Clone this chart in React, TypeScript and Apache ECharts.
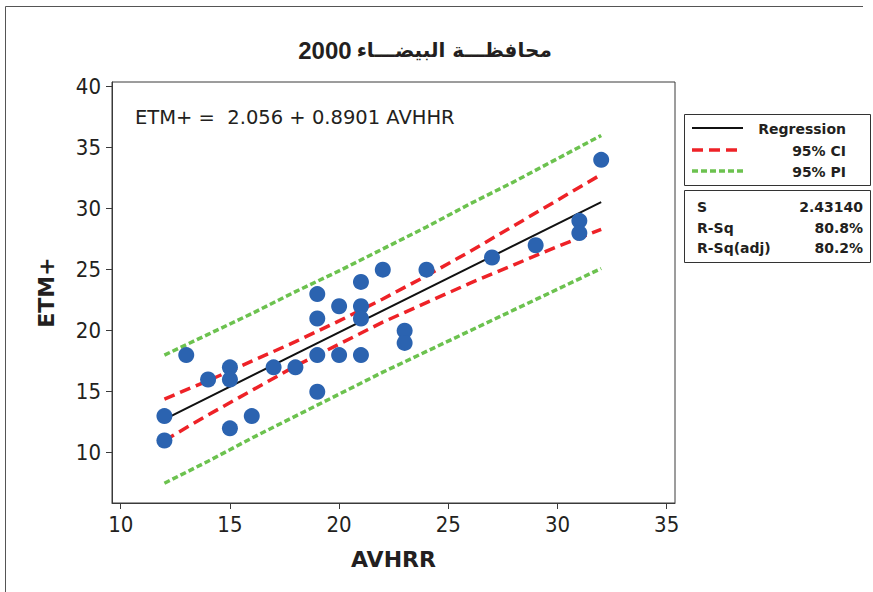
import React, { useEffect, useRef } from "react";
import * as echarts from "echarts";

// Observed data
const avhrr = [12, 12, 13, 14, 15, 15, 15, 16, 17, 18, 19, 19, 19, 19, 20, 20, 21, 21, 21, 21, 22, 23, 23, 24, 27, 29, 31, 31, 32];
const etm = [13, 11, 18, 16, 17, 16, 12, 13, 17, 17, 23, 21, 18, 15, 22, 18, 24, 22, 21, 18, 25, 20, 19, 25, 26, 27, 29, 28, 34];

// Fitted line endpoints
const fitX = [12, 32];
const fitY = [12.74, 30.54];

// Confidence / prediction bands
const bandX = [12, 14, 16, 18, 20, 22, 24, 26, 28, 30, 32];
const ciUpper = [14.4, 15.9, 17.5, 19.1, 20.8, 22.6, 24.5, 26.5, 28.6, 30.7, 32.8];
const ciLower = [11.0, 13.1, 15.1, 17.1, 18.9, 20.7, 22.3, 23.9, 25.4, 26.9, 28.3];
const piUpper = [18.0, 19.7, 21.4, 23.2, 24.9, 26.7, 28.5, 30.4, 32.2, 34.1, 36.0];
const piLower = [7.5, 9.3, 11.2, 13.0, 14.8, 16.6, 18.3, 20.0, 21.7, 23.4, 25.1];

// Ticks
const xTicks = [10, 15, 20, 25, 30, 35];
const yTicks = [10, 15, 20, 25, 30, 35, 40];

// Texts
const titleYear = "2000";
const titlePlace = "محافظـــة البيضـــاء";
const equationText = "ETM+ =  2.056 + 0.8901 AVHHR";
const legendLabels = ["Regression", "95% CI", "95% PI"];
const statLabels = ["S", "R-Sq", "R-Sq(adj)"];
const statValues = ["2.43140", "80.8%", "80.2%"];

const BLUE = "#2b63b0";
const RED = "#ee2227";
const GREEN = "#6cc24f";
const TICKFONT = "'DejaVu Sans Condensed', 'DejaVu Sans', sans-serif";
const WIDEFONT = "'DejaVu Sans', sans-serif";

export default function App() {
  const ref = useRef<HTMLDivElement>(null);

  useEffect(() => {
    if (!ref.current) return;
    const chart = echarts.init(ref.current, null, { renderer: "svg" });

    const zip = (xs: number[], ys: number[]) => xs.map((x, i) => [x, ys[i]]);
    const legendRowsY = [128, 150, 171];
    const statRowsY = [207, 228, 248];

    const graphic: any[] = [
      { type: "line", shape: { x1: 5.5, y1: 6.5, x2: 863, y2: 6.5 }, style: { stroke: "#555", lineWidth: 1 } },
      { type: "line", shape: { x1: 5.5, y1: 6.5, x2: 5.5, y2: 592 }, style: { stroke: "#555", lineWidth: 1 } },
      {
        type: "text", x: 135, y: 117,
        style: { text: equationText, fontSize: 19.5, fontFamily: WIDEFONT, fill: "#231f20", verticalAlign: "middle", align: "left" },
      },
      { type: "rect", shape: { x: 684.5, y: 114.5, width: 186, height: 71 }, style: { fill: "#fff", stroke: "#333", lineWidth: 1 } },
      { type: "rect", shape: { x: 684.5, y: 190.5, width: 186, height: 72 }, style: { fill: "#fff", stroke: "#333", lineWidth: 1 } },
      { type: "line", shape: { x1: 692, y1: legendRowsY[0], x2: 743, y2: legendRowsY[0] }, style: { stroke: "#111", lineWidth: 2 } },
      { type: "line", shape: { x1: 692, y1: legendRowsY[1], x2: 743, y2: legendRowsY[1] }, style: { stroke: RED, lineWidth: 3.5, lineDash: [11, 6] } },
      { type: "line", shape: { x1: 692, y1: legendRowsY[2], x2: 743, y2: legendRowsY[2] }, style: { stroke: GREEN, lineWidth: 3.5, lineDash: [6, 3] } },
    ];
    legendLabels.forEach((t, i) => {
      graphic.push({
        type: "text", x: 846, y: legendRowsY[i] + 1,
        style: { text: t, fontSize: 14, fontWeight: "bold", fontFamily: WIDEFONT, fill: "#231f20", align: "right", verticalAlign: "middle" },
      });
    });
    statLabels.forEach((t, i) => {
      graphic.push({
        type: "text", x: 697, y: statRowsY[i],
        style: { text: t, fontSize: 14, fontWeight: "bold", fontFamily: WIDEFONT, fill: "#231f20", align: "left", verticalAlign: "middle" },
      });
      graphic.push({
        type: "text", x: 863, y: statRowsY[i],
        style: { text: statValues[i], fontSize: 14, fontWeight: "bold", fontFamily: WIDEFONT, fill: "#231f20", align: "right", verticalAlign: "middle" },
      });
    });

    chart.setOption({
      animation: false,
      backgroundColor: "#fff",
      title: {
        text: `{y|${titleYear}} {p|${titlePlace}}`,
        left: 420,
        top: 33,
        textAlign: "center",
        textStyle: {
          color: "#231f20",
          rich: {
            y: { fontSize: 24, fontWeight: "bold", fontFamily: "'Liberation Sans', sans-serif", color: "#231f20" },
            p: { fontSize: 20, fontWeight: "bold", fontFamily: WIDEFONT, color: "#231f20" },
          },
        },
      },
      grid: { left: 112, top: 82, right: 198, bottom: 89, show: true, borderColor: "#3a3a3a", borderWidth: 1, backgroundColor: "transparent" },
      xAxis: {
        type: "value",
        min: 9.6,
        max: 35.38,
        name: "AVHRR",
        nameLocation: "middle",
        nameGap: 45,
        nameTextStyle: { fontSize: 22, fontWeight: "bold", fontFamily: WIDEFONT, color: "#231f20" },
        axisLine: { show: true, onZero: false, lineStyle: { color: "#3a3a3a", width: 1 } },
        axisTick: { show: true, inside: false, length: 6, customValues: xTicks, lineStyle: { color: "#3a3a3a" } },
        axisLabel: { customValues: xTicks, fontSize: 22, fontFamily: TICKFONT, color: "#231f20", margin: 10 },
        splitLine: { show: false },
      },
      yAxis: {
        type: "value",
        min: 5.88,
        max: 40.38,
        name: "ETM+",
        nameLocation: "middle",
        nameGap: 55,
        nameRotate: 90,
        nameTextStyle: { fontSize: 22, fontWeight: "bold", fontFamily: WIDEFONT, color: "#231f20" },
        axisLine: { show: true, onZero: false, lineStyle: { color: "#3a3a3a", width: 1 } },
        axisTick: { show: true, inside: false, length: 6, customValues: yTicks, lineStyle: { color: "#3a3a3a" } },
        axisLabel: { customValues: yTicks, fontSize: 22, fontFamily: TICKFONT, color: "#231f20", margin: 11 },
        splitLine: { show: false },
      },
      series: [
        { type: "line", data: zip(bandX, piUpper), showSymbol: false, symbol: "none", lineStyle: { color: GREEN, width: 3.5, type: [6, 3] }, z: 2 },
        { type: "line", data: zip(bandX, piLower), showSymbol: false, symbol: "none", lineStyle: { color: GREEN, width: 3.5, type: [6, 3] }, z: 2 },
        { type: "line", data: zip(bandX, ciUpper), showSymbol: false, symbol: "none", lineStyle: { color: RED, width: 3.5, type: [11, 6] }, z: 2 },
        { type: "line", data: zip(bandX, ciLower), showSymbol: false, symbol: "none", lineStyle: { color: RED, width: 3.5, type: [11, 6] }, z: 2 },
        { type: "line", data: zip(fitX, fitY), showSymbol: false, symbol: "none", lineStyle: { color: "#111", width: 2 }, z: 3 },
        { type: "scatter", data: zip(avhrr, etm), symbol: "circle", symbolSize: 16, itemStyle: { color: BLUE, opacity: 1 }, z: 4 },
      ],
      graphic,
    });

    return () => chart.dispose();
  }, []);

  return <div ref={ref} style={{ position: "fixed", left: 0, top: 0, width: 873, height: 592 }} />;
}
